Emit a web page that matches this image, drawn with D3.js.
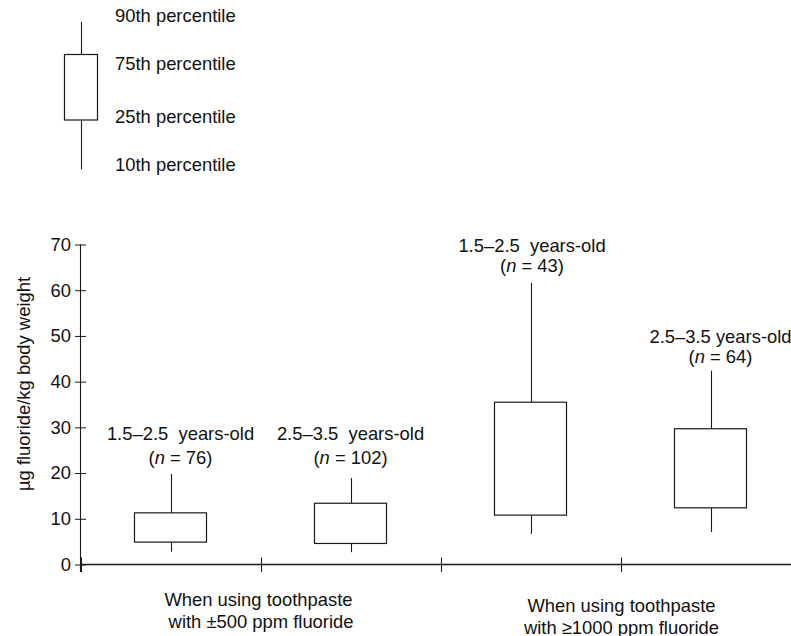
<!DOCTYPE html>
<html>
<head>
<meta charset="utf-8">
<script src="https://cdn.jsdelivr.net/npm/d3@7"></script>
<style>
  html, body { margin: 0; padding: 0; background: #fff; }
  svg { display: block; font-family: "Liberation Sans", Arial, Helvetica, sans-serif; }
  text { fill: #111; font-size: 18.4px; white-space: pre; }
</style>
</head>
<body>
<script>
// ---- data ----
const categories = ["1.5–2.5  years-old", "2.5–3.5  years-old", "1.5–2.5  years-old", "2.5–3.5 years-old"];
const sampleSizes = [76, 102, 43, 64];
const p10 = [2.8, 2.7, 6.7, 7.1];
const p25 = [4.9, 4.6, 10.8, 12.4];
const p75 = [11.3, 13.4, 35.5, 29.7];
const p90 = [19.8, 18.9, 61.6, 42.4];
const groupLine1 = ["When using toothpaste", "When using toothpaste"];
const groupLine2 = [" with ±500 ppm fluoride", "with ≥1000 ppm fluoride"];
const yTicks = [0, 10, 20, 30, 40, 50, 60, 70];
const yTitle = "µg fluoride/kg body weight";
const legendLabels = ["90th percentile", "75th percentile", "25th percentile", "10th percentile"];

// ---- layout ----
const W = 791, H = 636;
const svg = d3.select("body").append("svg").attr("width", W).attr("height", H);
const stroke = "#1a1a1a";

const ids = categories.map((c, i) => i);
const x = d3.scaleBand().domain(ids).range([80.5, 800.5]).paddingInner(0.6).paddingOuter(0.3);
const xg = d3.scaleBand().domain([0, 1]).range([80.5, 800.5]);
const y = d3.scaleLinear().domain([0, 70]).range([564.5, 244.5]);

// y axis
const yAxis = svg.append("g").attr("transform", "translate(80.5,0)")
  .call(d3.axisLeft(y).tickValues(yTicks).tickSize(6).tickPadding(3.5));
yAxis.select(".domain").remove();
yAxis.selectAll(".tick line").attr("x1", 5.5).attr("x2", -5.5).attr("stroke", stroke);
yAxis.selectAll(".tick text").style("font-size", "18.4px").attr("fill", "#111")
  .style("font-family", "'Liberation Sans', Arial, sans-serif");
svg.append("line").attr("x1", 80.5).attr("x2", 80.5).attr("y1", y(70)).attr("y2", y(0) + 7.5)
  .attr("stroke", stroke).attr("stroke-width", 1.1);

// y title
svg.append("text").attr("transform", `translate(30,${384}) rotate(-90)`)
  .attr("text-anchor", "middle").text(yTitle);

// x axis
svg.append("line").attr("x1", 80.5).attr("x2", 800).attr("y1", y(0)).attr("y2", y(0))
  .attr("stroke", stroke).attr("stroke-width", 1.3);
const bounds = ids.map(i => x(i) - x.step() * x.paddingOuter()).concat([x(3) + x.bandwidth() + x.step() * x.paddingOuter()]);
svg.selectAll(".xtick").data(bounds).join("line").attr("class", "xtick")
  .attr("x1", d => Math.round(d) + 0.5).attr("x2", d => Math.round(d) + 0.5)
  .attr("y1", y(0) - 7).attr("y2", y(0) + 7.5).attr("stroke", stroke).attr("stroke-width", 1.1);

// group labels
const gDy = [0, 5.5];
svg.selectAll(".gl1").data(groupLine1).join("text").attr("class", "gl1")
  .attr("x", (d, i) => xg(i) + xg.bandwidth() / 2 - (i === 0 ? 2 : -1)).attr("y", (d, i) => 606 + gDy[i])
  .attr("text-anchor", "middle").text(d => d);
svg.selectAll(".gl2").data(groupLine2).join("text").attr("class", "gl2")
  .attr("x", (d, i) => xg(i) + xg.bandwidth() / 2 - (i === 0 ? 2 : -1)).attr("y", (d, i) => 628 + gDy[i])
  .attr("text-anchor", "middle").text(d => d);

// boxes
const bw = x.bandwidth();
const boxes = svg.selectAll(".box").data(ids).join("g").attr("class", "box");
boxes.append("line")
  .attr("x1", i => Math.round(x(i) + bw / 2) + 0.5).attr("x2", i => Math.round(x(i) + bw / 2) + 0.5)
  .attr("y1", i => y(p90[i])).attr("y2", i => y(p75[i])).attr("stroke", stroke).attr("stroke-width", 1.1);
boxes.append("line")
  .attr("x1", i => Math.round(x(i) + bw / 2) + 0.5).attr("x2", i => Math.round(x(i) + bw / 2) + 0.5)
  .attr("y1", i => y(p25[i])).attr("y2", i => y(p10[i])).attr("stroke", stroke).attr("stroke-width", 1.1);
boxes.append("rect")
  .attr("x", i => x(i)).attr("width", bw)
  .attr("y", i => y(p75[i])).attr("height", i => y(p25[i]) - y(p75[i]))
  .attr("fill", "#fff").attr("stroke", stroke).attr("stroke-width", 1.2);

// box labels
const labDx = [10, 0, 1.5, 10];
const labDy2 = [-10, -14, -10.7, -7.4];
const labDy1 = [-33.5, -37.8, -31, -28];
boxes.append("text").attr("text-anchor", "middle")
  .attr("x", i => x(i) + bw / 2 + labDx[i]).attr("y", i => y(p90[i]) + labDy1[i])
  .text(i => categories[i]);
const t2 = boxes.append("text").attr("text-anchor", "middle")
  .attr("x", i => x(i) + bw / 2 + labDx[i]).attr("y", i => y(p90[i]) + labDy2[i]);
t2.append("tspan").text("(");
t2.append("tspan").style("font-style", "italic").text("n");
t2.append("tspan").text(i => " = " + sampleSizes[i] + ")");

// legend
const lg = svg.append("g");
lg.append("line").attr("x1", 81.5).attr("x2", 81.5).attr("y1", 22).attr("y2", 169.5)
  .attr("stroke", stroke).attr("stroke-width", 1.1);
lg.append("rect").attr("x", 64.5).attr("y", 54.5).attr("width", 33).attr("height", 65.5)
  .attr("fill", "#fff").attr("stroke", stroke).attr("stroke-width", 1.2);
const legY = [21.5, 69.5, 122.7, 171];
lg.selectAll("text").data(legendLabels).join("text")
  .attr("x", 115).attr("y", (d, i) => legY[i]).text(d => d);
</script>
</body>
</html>
